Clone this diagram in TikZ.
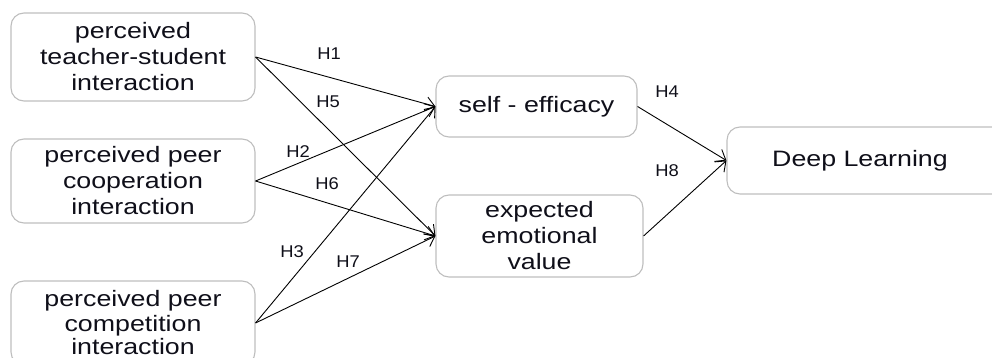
\documentclass[tikz,border=0pt]{standalone}
\usepackage{fontspec}
\setmainfont{Liberation Sans}[FakeStretch=1.2]
\newfontfamily\labfont{Liberation Sans}[FakeStretch=1.08]
\usetikzlibrary{arrows.meta}
\definecolor{boxgray}{RGB}{190,190,190}
\definecolor{txt}{RGB}{15,15,25}
\begin{document}
\begin{tikzpicture}[x=1pt,y=-1pt,
  box/.style={draw=boxgray, line width=1.1pt, rounded corners=13pt, align=center,
    inner sep=0pt, text=txt, font=\fontsize{22.3}{26}\selectfont},
  conn/.style={draw=black, line width=0.9pt, -{Straight Barb[length=9pt,width=14pt,line width=0.9pt]}},
  lab/.style={text=txt, font=\labfont\fontsize{17}{20}\selectfont, inner sep=0pt}]
\clip (0,0) rectangle (992,358);
\useasboundingbox (0,0) rectangle (992,358);
\node[box, minimum width=244pt, minimum height=88pt] (a) at (133,57) {perceived\\teacher-student\\interaction};
\node[box, minimum width=244pt, minimum height=84pt] (b) at (133,181) {perceived peer\\cooperation\\interaction};
\node[box, minimum width=244pt, minimum height=84pt] (c) at (133,323) {perceived peer\\[-1pt]competition\\[-3pt]interaction};
\node[box, minimum width=201pt, minimum height=61pt] (s) at (536.5,106.5) {self - efficacy};
\node[box, minimum width=207pt, minimum height=82pt] (e) at (539.5,236) {expected\\emotional\\value};
\node[box, minimum width=280pt, minimum height=67pt] (d) at (867,160.5) {\hspace*{-14pt}Deep Learning};
\draw[conn] (a.east) -- (s.west);
\draw[conn] (a.east) -- (e.west);
\draw[conn] (b.east) -- (s.west);
\draw[conn] (b.east) -- (e.west);
\draw[conn] (c.east) -- (s.west);
\draw[conn] (c.east) -- (e.west);
\draw[conn] (s.east) -- (d.west);
\draw[conn] (e.east) -- (d.west);
\node[lab] (h1) at (329,54) {H1};
\node[lab] (h5) at (328,102) {H5};
\node[lab] (h2) at (298,152) {H2};
\node[lab] (h6) at (327,184) {H6};
\node[lab] (h3) at (292,252) {H3};
\node[lab] (h7) at (348,262) {H7};
\node[lab] (h4) at (667,92) {H4};
\node[lab] (h8) at (667,171) {H8};
\end{tikzpicture}
\end{document}
